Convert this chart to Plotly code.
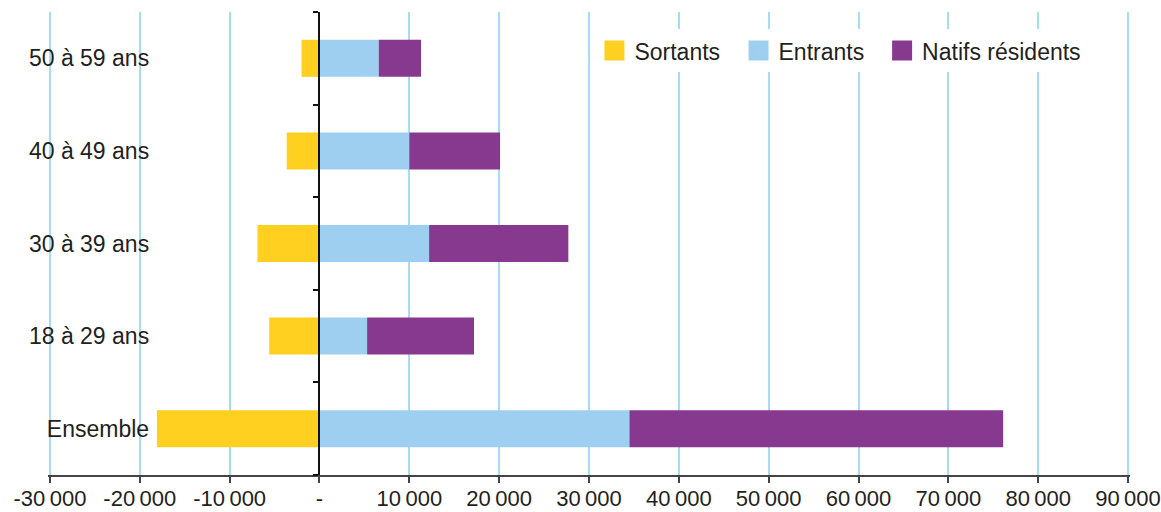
import plotly.graph_objects as go

categories = ["Ensemble", "18 à 29 ans", "30 à 39 ans", "40 à 49 ans", "50 à 59 ans"]
sortants = [-18100, -5600, -6900, -3650, -2000]
entrants = [34500, 5300, 12200, 10000, 6600]
natifs = [41600, 11900, 15500, 10100, 4700]

tick_vals = [-30000, -20000, -10000, 0, 10000, 20000, 30000, 40000, 50000, 60000, 70000, 80000, 90000]
tick_text = ["-30\u2009000", "-20\u2009000", "-10\u2009000", "-", "10\u2009000", "20\u2009000", "30\u2009000",
             "40\u2009000", "50\u2009000", "60\u2009000", "70\u2009000", "80\u2009000", "90\u2009000"]

series = [("Sortants", sortants, "#FFD020"), ("Entrants", entrants, "#9ECFF0"), ("Natifs résidents", natifs, "#87398F")]
legend_ids = ["legend", "legend2", "legend3"]
legend_x = [0.505, 0.6382, 0.7709]

FONT = "Liberation Sans, Arial, sans-serif"

fig = go.Figure()
for name, vals, col in series:
    fig.add_trace(go.Bar(y=categories, x=vals, orientation="h", name=name,
                         marker=dict(color=col, line=dict(width=0)), showlegend=False))
for (name, vals, col), lg in zip(series, legend_ids):
    fig.add_trace(go.Scatter(x=[None], y=[None], mode="markers", name=name, legend=lg,
                             marker=dict(symbol="square", size=16, color=col,
                                         line=dict(color=col, width=4))))

legend_common = dict(orientation="h", y=0.963, xanchor="left", yanchor="top",
                     bgcolor="white", font=dict(size=23), itemwidth=30)

fig.update_layout(
    width=1161, height=512,
    margin=dict(l=48, r=31, t=12, b=37, autoexpand=False),
    barmode="relative", bargap=0.6,
    plot_bgcolor="white", paper_bgcolor="white",
    font=dict(family=FONT, size=23, color="#231F20"),
    legend=dict(x=legend_x[0], **legend_common),
    legend2=dict(x=legend_x[1], **legend_common),
    legend3=dict(x=legend_x[2], **legend_common),
    xaxis=dict(range=[-30220, 90220], tickvals=tick_vals, ticktext=tick_text,
               showgrid=True, gridcolor="#A6DDF6", gridwidth=1.5,
               zeroline=True, zerolinecolor="#111111", zerolinewidth=1.5,
               showline=True, linecolor="#444444", linewidth=1.5,
               ticks="outside", ticklen=6, tickcolor="#444444", tickwidth=1.5,
               tickfont=dict(size=22), ticklabeloverflow="allow", ticklabelstandoff=-3,
               fixedrange=True, automargin=False),
    yaxis=dict(categoryorder="array", categoryarray=categories,
               anchor="free", position=0.25, side="left",
               showline=True, linecolor="#111111", linewidth=1.5,
               ticks="outside", ticklen=5, tickcolor="#111111", tickwidth=1.5,
               tickson="boundaries", showgrid=False, automargin=False,
               ticklabelstandoff=164, tickfont=dict(size=23), fixedrange=True),
)

fig.write_html("out.html", config={"displayModeBar": False},
               post_script="document.body.style.margin='0';document.body.style.padding='0';"
                           "document.body.style.overflow='hidden';")
